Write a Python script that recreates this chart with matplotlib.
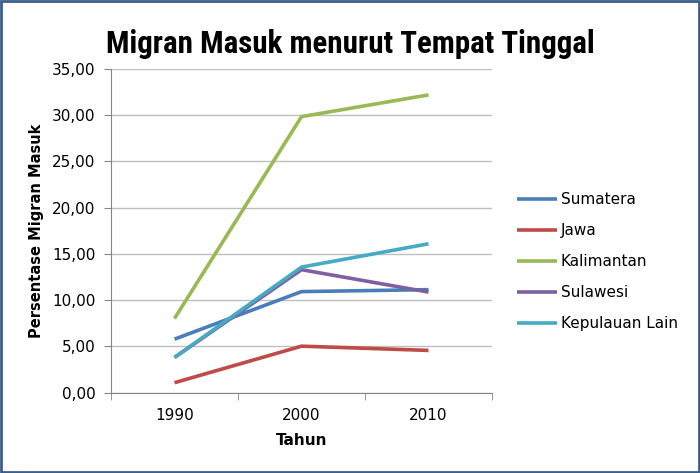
import matplotlib.pyplot as plt
from matplotlib import font_manager
from matplotlib.ticker import FuncFormatter, FixedLocator
from matplotlib.patches import Rectangle

tahun = ["1990", "2000", "2010"]
sumatera = [5.79, 10.93, 11.14]
jawa = [1.08, 5.03, 4.57]
kalimantan = [8.02, 29.85, 32.2]
sulawesi = [3.81, 13.3, 10.88]
kepulauan_lain = [3.81, 13.58, 16.1]

series = [
    ("Sumatera", sumatera, "#4A7EBB"),
    ("Jawa", jawa, "#BE4B48"),
    ("Kalimantan", kalimantan, "#98B954"),
    ("Sulawesi", sulawesi, "#7D60A0"),
    ("Kepulauan Lain", kepulauan_lain, "#46AAC5"),
]

# judul pakai font sempit kalau ada
ada = {f.name for f in font_manager.fontManager.ttflist}
font_judul = "DejaVu Sans"
for nm in ["Liberation Sans Narrow", "DejaVu Sans Condensed", "Roboto Condensed", "Lato", "Roboto"]:
    if nm in ada:
        font_judul = nm
        break

fig = plt.figure(figsize=(7, 4.73), dpi=100)
ax = fig.add_axes([0.1586, 0.1698, 0.5443, 0.6843])

x = range(len(tahun))
for nama, vals, warna in series:
    ax.plot(x, vals, color=warna, lw=2.6, label=nama, solid_capstyle="butt")

ax.set_xlim(-0.5, 2.5)
ax.set_ylim(0, 35)
ax.set_yticks(range(0, 36, 5))
ax.yaxis.set_major_formatter(FuncFormatter(lambda v, p: f"{v:.2f}".replace(".", ",")))
ax.set_xticks(list(x))
ax.set_xticklabels(tahun)
ax.xaxis.set_minor_locator(FixedLocator([-0.5, 0.5, 1.5, 2.5]))
ax.tick_params(axis="x", which="major", length=0, pad=11, labelsize=11)
ax.tick_params(axis="x", which="minor", length=5, color="#868686", direction="out")
ax.tick_params(axis="y", length=5, color="#868686", labelsize=11, pad=6)

ax.grid(axis="y", color="#BFBFBF", lw=1)
ax.set_axisbelow(True)
for s in ["top", "right"]:
    ax.spines[s].set_visible(False)
for s in ["left", "bottom"]:
    ax.spines[s].set_color("#868686")

ax.set_xlabel("Tahun", fontweight="bold", fontsize=11, labelpad=7)
ax.set_ylabel("Persentase Migran Masuk", fontweight="bold", fontsize=10.5, labelpad=6)

judul = fig.text(0.5, 0.907, "Migran Masuk menurut Tempat Tinggal",
                 family=font_judul, fontweight="bold",
                 fontsize=25, ha="center", va="center")
# sesuaikan lebar judul ~490 px
r = fig.canvas.get_renderer()
w = judul.get_window_extent(r).width
if w > 495:
    judul.set_fontsize(25 * 490 / w)

ax.legend(loc="upper left", bbox_to_anchor=(1.03, 0.662), frameon=False,
          fontsize=11, handlelength=2.6, handletextpad=0.25, labelspacing=1.05)

fig.patches.append(Rectangle((0.002, 0.003), 0.996, 0.994, transform=fig.transFigure,
                             fill=False, edgecolor="#3B5E8C", lw=2))

plt.savefig("out.png", dpi=100)
